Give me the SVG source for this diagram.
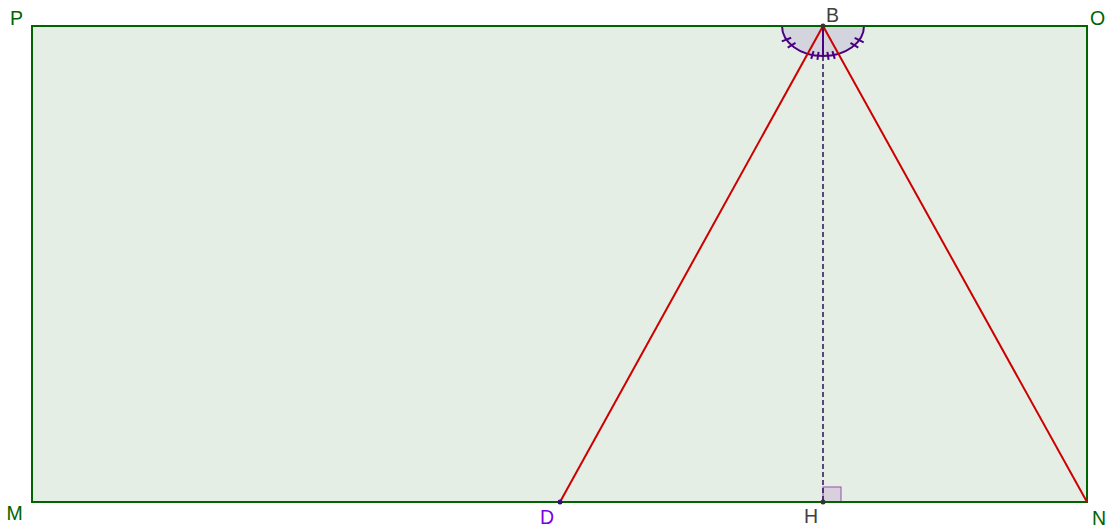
<svg xmlns="http://www.w3.org/2000/svg" width="1114" height="529" viewBox="0 0 1114 529">
<style>
.lbl{font-family:"Liberation Sans","DejaVu Sans",Arial,sans-serif;font-size:19.5px}
.g{fill:#006400}
.k{fill:#404040}
.v{fill:#7a00e6}
.red{stroke:#cc0000;stroke-width:2;fill:none}
.tick{stroke:#4b0082;stroke-width:2}
</style>
<rect width="1114" height="529" fill="#ffffff"/>
<g id="rect-fill">
<rect x="32" y="26" width="1055" height="476" fill="#e4eee4" stroke="none"/>
</g>
<g id="angle-B">
<path d="M782,26 A41,30 0 0 0 864,26 Z" fill="#d4d4de" stroke="none"/>
<path d="M782,26 A41,30 0 0 0 864,26" fill="none" stroke="#4b0082" stroke-width="2"/>
<line x1="823" y1="26" x2="823" y2="56" stroke="#4b0082" stroke-width="2"/>
<line class="tick" x1="795.5" y1="42.9" x2="787.7" y2="47.7"/>
<line class="tick" x1="791.2" y1="37.8" x2="781.8" y2="41.4"/>
<line class="tick" x1="818.6" y1="51.8" x2="817.4" y2="59.8"/>
<line class="tick" x1="813.6" y1="51.1" x2="811.2" y2="58.9"/>
<line class="tick" x1="827.4" y1="51.8" x2="828.6" y2="59.8"/>
<line class="tick" x1="832.4" y1="51.1" x2="834.8" y2="58.9"/>
<line class="tick" x1="854.7" y1="37.8" x2="863.7" y2="42.4"/>
<line class="tick" x1="850.5" y1="42.9" x2="858.3" y2="47.7"/>
</g>
<g id="rightangle-H">
<rect x="823" y="487" width="18" height="15" fill="#d8d0dc" stroke="#9a4ab0" stroke-width="1"/>
</g>
<g id="rect-MNOP">
<rect x="32" y="26" width="1055" height="476" fill="none" stroke="#006400" stroke-width="2"/>
</g>
<g id="connectors">
<line x1="823" y1="56" x2="823" y2="502" stroke="#2f0f4f" stroke-width="1.5" stroke-dasharray="5,3"/>
<line class="red" x1="823" y1="26" x2="560" y2="502"/>
<line class="red" x1="823" y1="26" x2="1087" y2="502"/>
</g>
<g id="point-B"><circle cx="823" cy="26" r="2.5" fill="#333333"/><text class="lbl k" x="826" y="22">B</text></g>
<g id="point-H"><circle cx="823" cy="502" r="2.5" fill="#333333"/><text class="lbl k" x="804" y="523">H</text></g>
<g id="point-D"><circle cx="560" cy="502" r="2.5" fill="#3a0a7a"/><text class="lbl v" x="540" y="524">D</text></g>
<g id="point-P"><text class="lbl g" x="10" y="25">P</text></g>
<g id="point-O"><text class="lbl g" x="1090" y="25">O</text></g>
<g id="point-M"><text class="lbl g" x="6.5" y="520">M</text></g>
<g id="point-N"><text class="lbl g" x="1092" y="525">N</text></g>
</svg>
